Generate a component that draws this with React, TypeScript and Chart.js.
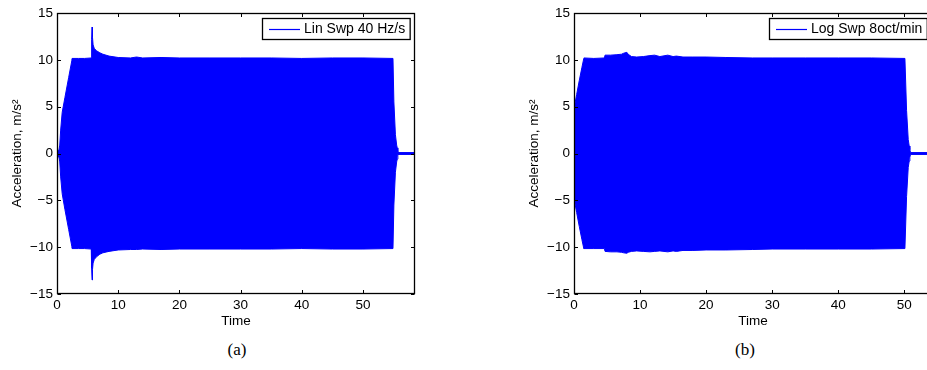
import React, { useEffect, useRef } from "react";
import { Chart, registerables } from "chart.js";

Chart.register(...registerables);

// ---------- data ----------
const linTime = [0, 0.15, 0.3, 0.45, 0.6, 0.85, 1.3, 1.9, 2.42, 2.46, 3.5, 4.5, 5.6, 5.66, 5.73, 5.8, 5.9, 6.1, 6.5, 7.0, 7.5, 8.5, 10, 12, 13, 14, 17, 20, 25, 30, 35, 40, 45, 50, 54.9, 55.05, 55.3, 55.5, 55.6, 55.7, 58.5];
const linUpper = [0, 0.4, 0.3, 0.9, 2.5, 4.4, 6.0, 8.1, 9.9, 10.15, 10.15, 10.15, 10.2, 12.2, 13.5, 12.4, 11.6, 11.2, 10.95, 10.75, 10.6, 10.4, 10.25, 10.2, 10.3, 10.2, 10.25, 10.2, 10.2, 10.2, 10.2, 10.15, 10.2, 10.2, 10.15, 5.5, 2.0, 0.9, 0.6, 0.1, 0.1];
const linLower = [0, -0.4, -0.3, -0.9, -2.5, -4.3, -6.0, -8.1, -9.9, -10.15, -10.15, -10.15, -10.2, -12.2, -13.5, -12.4, -11.7, -11.3, -11.0, -10.75, -10.6, -10.45, -10.3, -10.25, -10.25, -10.2, -10.25, -10.2, -10.2, -10.2, -10.2, -10.15, -10.2, -10.2, -10.15, -5.5, -2.0, -0.9, -0.6, -0.1, -0.1];

const logTime = [0, 0.4, 0.8, 1.2, 1.47, 1.5, 3.0, 4.6, 4.7, 5.5, 6.5, 7.2, 7.5, 8.0, 8.2, 8.7, 9.5, 10.5, 11.5, 12.2, 13.0, 14.2, 15.0, 15.5, 16.5, 18, 20, 23, 27, 30, 35, 40, 45, 50.1, 50.35, 50.6, 50.75, 50.85, 50.95, 54.2];
const logUpper = [4.8, 6.3, 7.8, 9.2, 10.1, 10.2, 10.15, 10.2, 10.5, 10.5, 10.55, 10.6, 10.7, 10.8, 10.6, 10.35, 10.3, 10.35, 10.45, 10.5, 10.35, 10.5, 10.35, 10.4, 10.3, 10.3, 10.3, 10.25, 10.2, 10.2, 10.2, 10.2, 10.2, 10.15, 4.6, 1.5, 0.8, 0.4, 0.1, 0.1];
const logLower = [-4.8, -6.3, -7.8, -9.2, -10.1, -10.15, -10.15, -10.15, -10.45, -10.5, -10.5, -10.55, -10.6, -10.65, -10.55, -10.45, -10.4, -10.45, -10.5, -10.45, -10.4, -10.5, -10.4, -10.45, -10.35, -10.35, -10.3, -10.3, -10.25, -10.2, -10.2, -10.2, -10.2, -10.15, -4.6, -1.5, -0.8, -0.4, -0.1, -0.1];

const xTicks = [0, 10, 20, 30, 40, 50];
const yTicks = [-15, -10, -5, 0, 5, 10, 15];
const linLabel = "Lin Swp 40 Hz/s";
const logLabel = "Log Swp 8oct/min";
const xTitle = "Time";
const yTitle = "Acceleration, m/s\u00B2";
const captions = ["(a)", "(b)"];

const FONT = "'Liberation Sans', Arial, Helvetica, sans-serif";
const BLUE = "#0000ff";

const matlabAxes = {
  id: "matlabAxes",
  afterDatasetsDraw(chart: any, _args: any, opts: any) {
    const { ctx, chartArea: a, scales } = chart;
    const L = Math.round(a.left) + 0.5;
    const R = Math.round(a.right) - 0.5;
    const T = Math.round(a.top) + 0.5;
    const B = Math.round(a.bottom) - 0.5;
    const tl = 3.5;
    ctx.save();
    ctx.strokeStyle = "#000";
    ctx.lineWidth = 1;
    ctx.beginPath();
    for (const t of scales.x.ticks) {
      const px = Math.round(scales.x.getPixelForValue(t.value)) + 0.5;
      ctx.moveTo(px, B);
      ctx.lineTo(px, B - tl);
      ctx.moveTo(px, T);
      ctx.lineTo(px, T + tl);
    }
    for (const t of scales.y.ticks) {
      const py = Math.round(scales.y.getPixelForValue(t.value)) + 0.5;
      ctx.moveTo(L, py);
      ctx.lineTo(L + tl, py);
      ctx.moveTo(R, py);
      ctx.lineTo(R - tl, py);
    }
    ctx.stroke();
    ctx.lineWidth = 1.3;
    ctx.strokeRect(L, T, R - L, B - T);

    // legend
    const label = opts.label as string;
    ctx.font = "14px " + FONT;
    const tw = ctx.measureText(label).width;
    const padL = 6.5, lineLen = 31, gap = 4, padR = 5, h = 21;
    const w = padL + lineLen + gap + tw + padR;
    const bx = Math.round(a.right - 5.5 - w) + 0.5;
    const by = Math.round(a.top + 5) + 0.5;
    ctx.fillStyle = "#fff";
    ctx.fillRect(bx, by, w, h);
    ctx.lineWidth = 1.3;
    ctx.strokeStyle = "#000";
    ctx.strokeRect(bx, by, w, h);
    const cy = by + h / 2;
    ctx.strokeStyle = BLUE;
    ctx.lineWidth = 1.2;
    ctx.beginPath();
    ctx.moveTo(bx + padL, Math.round(cy) + 0.5);
    ctx.lineTo(bx + padL + lineLen, Math.round(cy) + 0.5);
    ctx.stroke();
    ctx.fillStyle = "#000";
    ctx.textBaseline = "middle";
    ctx.textAlign = "left";
    ctx.fillText(label, bx + padL + lineLen + gap, cy + 0.5);
    ctx.restore();
  },
};

function pts(t: number[], v: number[]) {
  return t.map((x, i) => ({ x, y: v[i] }));
}

const fmt = (v: any) => String(v).replace("-", "\u2212");

type PlotProps = {
  time: number[];
  upper: number[];
  lower: number[];
  label: string;
  xMax: number;
  width: number;
  height: number;
  padLeft: number;
  padRight: number;
  left: number;
};

function Plot(p: PlotProps) {
  const ref = useRef<HTMLCanvasElement>(null);
  useEffect(() => {
    if (!ref.current) return;
    const chart = new Chart(ref.current, {
      type: "line",
      data: {
        datasets: [
          {
            label: p.label,
            data: pts(p.time, p.upper),
            borderColor: BLUE,
            backgroundColor: BLUE,
            borderWidth: 1,
            pointRadius: 0,
            fill: "+1",
            tension: 0,
          },
          {
            label: p.label + " lower",
            data: pts(p.time, p.lower),
            borderColor: BLUE,
            backgroundColor: BLUE,
            borderWidth: 1,
            pointRadius: 0,
            fill: false,
            tension: 0,
          },
        ],
      },
      plugins: [matlabAxes],
      options: {
        animation: false,
        responsive: false,
        devicePixelRatio: 1,
        layout: { padding: { left: p.padLeft, right: p.padRight, top: 13, bottom: 0 } },
        plugins: {
          legend: { display: false },
          tooltip: { enabled: false },
          matlabAxes: { label: p.label },
        } as any,
        scales: {
          x: {
            type: "linear",
            min: 0,
            max: p.xMax,
            grid: { display: false, drawTicks: false },
            border: { display: false },
            afterBuildTicks: (s: any) => {
              s.ticks = xTicks.map((v) => ({ value: v }));
            },
            afterFit: (s: any) => {
              s.height = p.height - 294;
            },
            ticks: {
              padding: 3,
              maxRotation: 0,
              autoSkip: false,
              color: "#000",
              font: { family: FONT, size: 13.5 },
              callback: fmt,
            },
            title: {
              display: true,
              text: xTitle,
              color: "#000",
              font: { family: FONT, size: 13.5 },
              padding: { top: 0, bottom: 6 },
            },
          },
          y: {
            type: "linear",
            min: -15,
            max: 15,
            grid: { display: false, drawTicks: false },
            border: { display: false },
            afterBuildTicks: (s: any) => {
              s.ticks = yTicks.map((v) => ({ value: v }));
            },
            afterFit: (s: any) => {
              s.width = 57;
            },
            ticks: {
              padding: 4,
              autoSkip: false,
              color: "#000",
              font: { family: FONT, size: 13.5 },
              callback: fmt,
            },
            title: {
              display: true,
              text: yTitle,
              color: "#000",
              font: { family: FONT, size: 13.5 },
              padding: { top: 9, bottom: 0 },
            },
          },
        },
      } as any,
    });
    return () => chart.destroy();
  }, []);
  return (
    <canvas
      ref={ref}
      width={p.width}
      height={p.height}
      style={{ position: "absolute", left: p.left, top: 0, width: p.width, height: p.height }}
    />
  );
}

export default function App() {
  const capStyle: React.CSSProperties = {
    position: "absolute",
    top: 338,
    width: 100,
    textAlign: "center",
    fontFamily: "'Liberation Serif', 'DejaVu Serif', serif",
    fontSize: 17,
    lineHeight: "24px",
    color: "#000",
  };
  return (
    <div
      style={{
        position: "absolute",
        left: 0,
        top: 0,
        width: 927,
        height: 370,
        overflow: "hidden",
        background: "#fff",
      }}
    >
      <Plot time={linTime} upper={linUpper} lower={linLower} label={linLabel} xMax={58.5} width={460} height={335} padLeft={0} padRight={45} left={0} />
      <Plot time={logTime} upper={logUpper} lower={logLower} label={logLabel} xMax={54.2} width={480} height={335} padLeft={57} padRight={8} left={460} />
      <div style={{ ...capStyle, left: 187 }}>{captions[0]}</div>
      <div style={{ ...capStyle, left: 695 }}>{captions[1]}</div>
    </div>
  );
}
